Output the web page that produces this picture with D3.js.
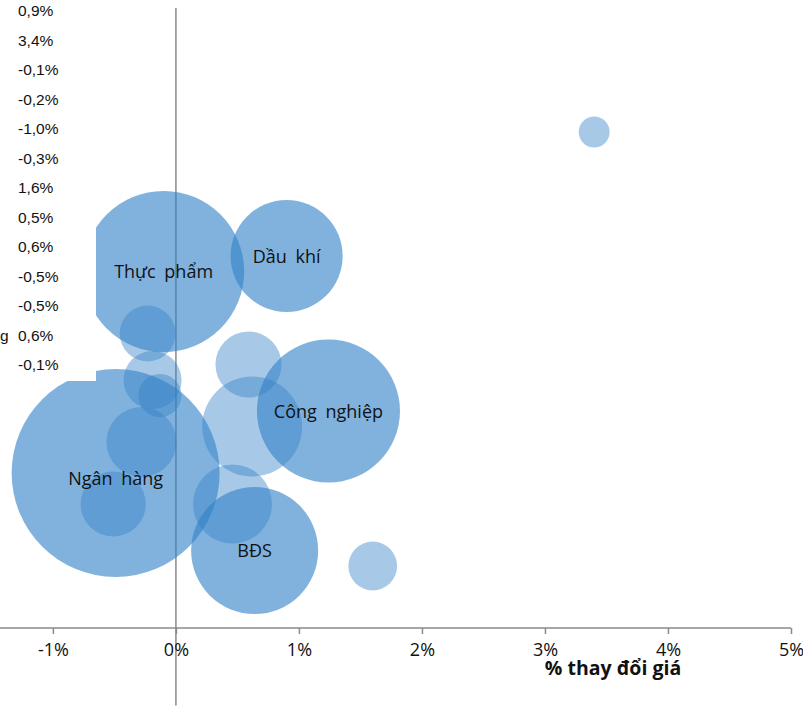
<!DOCTYPE html>
<html>
<head>
<meta charset="utf-8">
<script src="https://cdn.jsdelivr.net/npm/d3@7"></script>
<style>
  html, body { margin: 0; padding: 0; background: #fff; }
  svg { display: block; }
</style>
</head>
<body>
<svg id="chart" width="803" height="715"></svg>
<script>
// ---- data ----
const sectorLabels = ["Thực phẩm", "Dầu khí", "Công nghiệp", "Ngân hàng", "BĐS"];
const sectorX = [-0.1, 0.9, 1.24, -0.49, 0.64];
const sectorY = [5.75, 6.0, 3.5, 2.5, 1.25];
const sectorSize = [60, 29, 47.3, 100, 37.3];

const subX = [-0.23, -0.19, -0.13, -0.28, -0.51, 0.46, 0.62, 0.59, 1.6, 3.4];
const subY = [4.75, 4.0, 3.75, 3.0, 2.0, 2.0, 3.25, 4.25, 1.0, 8.0];
const subSize = [7.2, 7.8, 4.3, 11.3, 9.8, 14.4, 23.1, 10.1, 5.5, 2.2];

const tableValues = ["0,9%", "3,4%", "-0,1%", "-0,2%", "-1,0%", "-0,3%", "1,6%",
                     "0,5%", "0,6%", "-0,5%", "-0,5%", "0,6%", "-0,1%"];
const xTicks = [-1, 0, 1, 2, 3, 4, 5];
const xTitle = "% thay đổi giá";

// ---- scales ----
const x = d3.scaleLinear().domain([-1.43, 5]).range([0, 791]);
const y = d3.scaleLinear().domain([-1.25, 10]).range([705.5, 8]);
const r = d3.scaleSqrt().domain([0, 100]).range([0, 104]);

const svg = d3.select("#chart");
const axisColor = "#8a8a8a";
const base = "rgb(50,130,200)";

// ---- axes (behind bubbles) ----
svg.append("line")
  .attr("x1", x(0)).attr("x2", x(0))
  .attr("y1", y(10)).attr("y2", y(-1.25))
  .attr("stroke", axisColor).attr("stroke-width", 1.5);

const xAxis = d3.axisBottom(x).tickValues(xTicks)
  .tickSize(6).tickFormat(d => d + "%");
const gx = svg.append("g").attr("transform", `translate(0,${y(0)})`).call(xAxis);
gx.select(".domain").attr("stroke", axisColor).attr("stroke-width", 1.5)
  .attr("d", `M0,0H${x(5)}`);
gx.selectAll(".tick line").attr("stroke", axisColor).attr("stroke-width", 1.5);
gx.selectAll(".tick text")
  .attr("font-family", "'Open Sans', sans-serif")
  .attr("font-size", 18).attr("fill", "#111").attr("dy", "1.05em");

// ---- bubbles ----
const sectors = sectorLabels.map((l, i) => ({label: l, x: sectorX[i], y: sectorY[i], s: sectorSize[i]}));
const subs = subX.map((v, i) => ({x: v, y: subY[i], s: subSize[i]}));

svg.append("g").selectAll("circle").data(sectors).join("circle")
  .attr("cx", d => x(d.x)).attr("cy", d => y(d.y)).attr("r", d => r(d.s))
  .attr("fill", base).attr("fill-opacity", 0.62);

svg.append("g").selectAll("circle").data(subs).join("circle")
  .attr("cx", d => x(d.x)).attr("cy", d => y(d.y)).attr("r", d => r(d.s))
  .attr("fill", base).attr("fill-opacity", 0.43);

// ---- labels ----
svg.append("g").selectAll("text").data(sectors).join("text")
  .attr("x", d => x(d.x)).attr("y", d => y(d.y))
  .attr("dy", d => d.label === "Ngân hàng" ? "0.68em" : "0.38em")
  .attr("text-anchor", "middle")
  .attr("font-family", "'Open Sans', sans-serif")
  .attr("font-size", 18).attr("word-spacing", 4).attr("fill", "#111")
  .text(d => d.label);

// ---- x axis title ----
svg.append("text")
  .attr("x", 613).attr("y", 675)
  .attr("text-anchor", "middle")
  .attr("font-family", "'Open Sans', sans-serif")
  .attr("font-weight", "bold").attr("font-size", 19.5).attr("fill", "#111")
  .text(xTitle);

// ---- overlapping table block ----
svg.append("rect").attr("x", 0).attr("y", 0).attr("width", 96).attr("height", 381).attr("fill", "#fff");
svg.append("g").selectAll("text").data(tableValues).join("text")
  .attr("x", 18).attr("y", (d, i) => 16 + 29.5 * i)
  .attr("font-family", "'Liberation Sans', Arial, sans-serif")
  .attr("font-size", 15.5).attr("fill", "#111")
  .text(d => d);
svg.append("text").attr("x", 8.5).attr("y", 16 + 29.5 * 11)
  .attr("text-anchor", "end")
  .attr("font-family", "'Liberation Sans', Arial, sans-serif")
  .attr("font-size", 15.5).attr("fill", "#111").text("g");
</script>
</body>
</html>
